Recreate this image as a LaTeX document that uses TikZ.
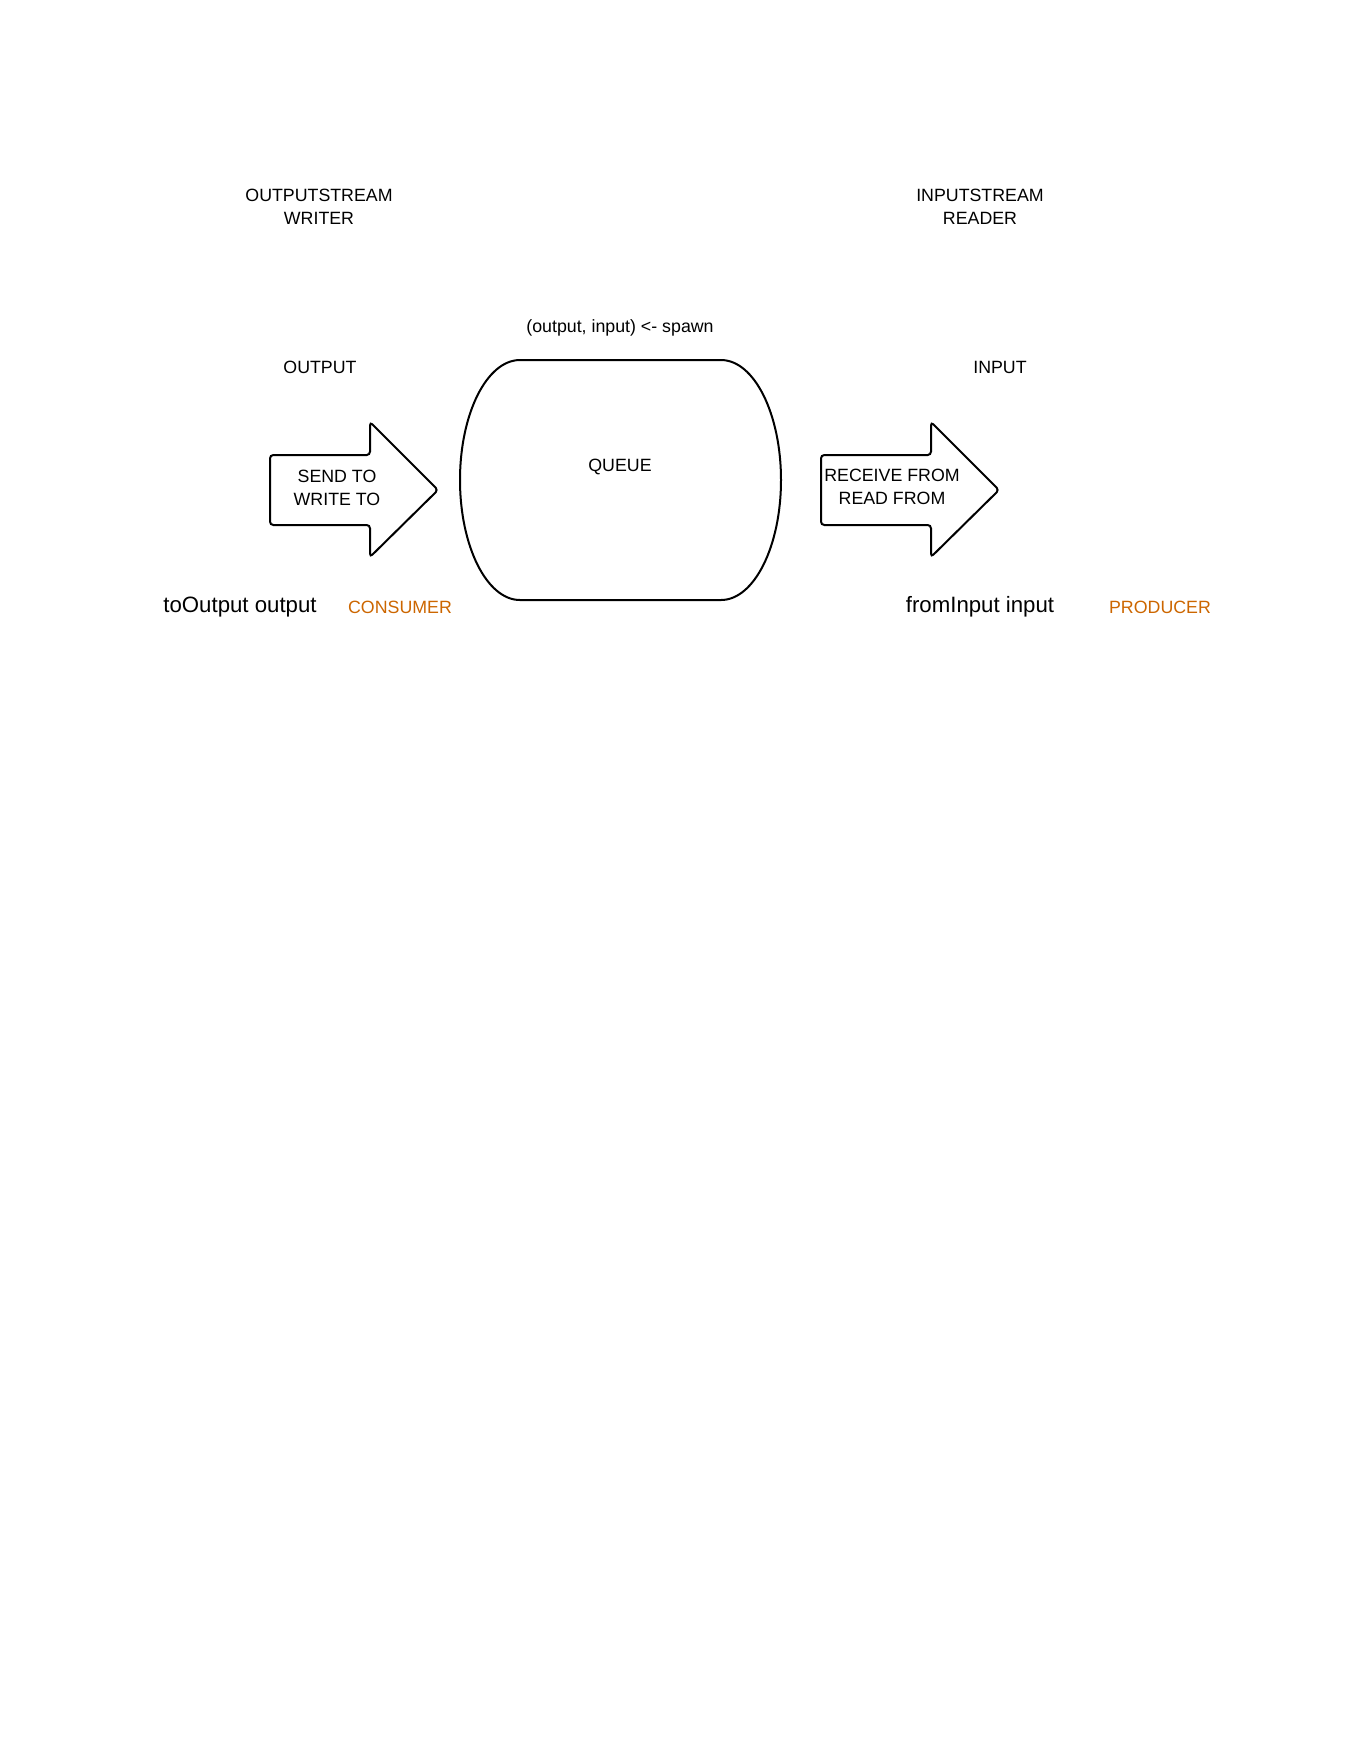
\documentclass[tikz,border=0pt]{standalone}
\usepackage{fontspec}
\setmainfont{Liberation Sans}
\definecolor{roleorange}{HTML}{CC6600}
\begin{document}
\begin{tikzpicture}[x=0.45pt, y=-0.45pt, line width=0.9pt,
  label/.style = {font=\fontsize{8}{10.3}\selectfont, align=center, inner sep=0pt},
  biglabel/.style = {font=\fontsize{10}{12}\selectfont, inner sep=0pt},
  role/.style = {label, text=roleorange},
  flow/.style = {draw, rounded corners=1.5pt}]
\useasboundingbox (0,0) rectangle (1360,1760);

% headings
\node[label] (writer) at (319,207) {OUTPUTSTREAM\\WRITER};
\node[label] (reader) at (980,207) {INPUTSTREAM\\READER};
\node[label] (output) at (320,367) {OUTPUT};
\node[label] (input) at (1000,367) {INPUT};

% queue
\draw (520,360) -- (721,360)
  arc[start angle=-90, end angle=90, x radius=60, y radius=120] -- (520,600)
  arc[start angle=90, end angle=270, x radius=60, y radius=120] -- cycle;
\node[label] (queue) at (620,467) {QUEUE};
\node[label] (spawn) at (620,328) {(output, input) <- spawn};

% arrows
\draw[flow] (270,455) -- (370,455) -- (370,422) -- (438,490) -- (370,557) -- (370,525) -- (270,525) -- cycle;
\node[label] (send) at (337,488) {SEND TO\\WRITE TO};
\draw[flow] (821,455) -- (931,455) -- (931,422) -- (999,490) -- (931,557) -- (931,525) -- (821,525) -- cycle;
\node[label] (receive) at (892,487) {RECEIVE FROM\\READ FROM};

% bottom line
\node[biglabel] (tooutput) at (240,607) {toOutput output};
\node[role] (consumer) at (400,607) {CONSUMER};
\node[biglabel] (frominput) at (980,607) {fromInput input};
\node[role] (producer) at (1160,607) {PRODUCER};

\end{tikzpicture}
\end{document}
